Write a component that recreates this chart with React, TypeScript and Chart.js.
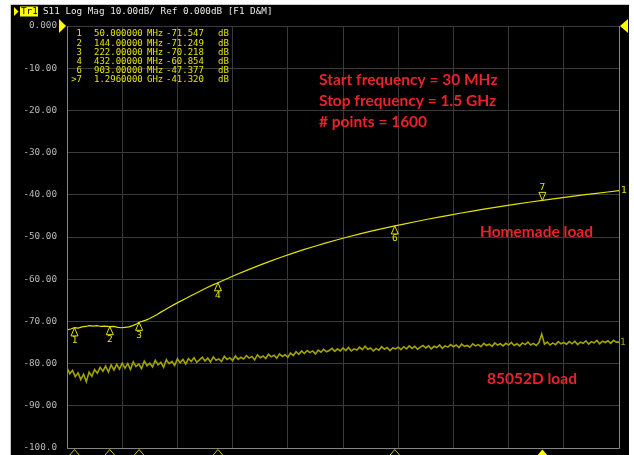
import React, { useEffect, useRef } from "react";
import { Chart, registerables } from "chart.js";
Chart.register(...registerables);

const START_MHZ = 30;
const STOP_MHZ = 1500;
const X_STEP_MHZ = 147;
const Y_TICK_LABELS = ["0.000", "-10.00", "-20.00", "-30.00", "-40.00", "-50.00", "-60.00", "-70.00", "-80.00", "-90.00", "-100.0"];
const HEADER_TRACE = "Tr1";
const HEADER_TEXT = "S11 Log Mag 10.00dB/ Ref 0.000dB [F1 D&M]";

const HOMEMADE_FREQ = [
  30, 40, 50, 60, 70, 80, 90, 100, 110, 120, 130, 144, 155, 165, 175, 185, 195, 205, 215, 222,
  230, 240, 250, 260, 270, 280, 290, 300, 315, 330, 345, 360, 375, 390, 405, 420, 432, 450, 480, 510,
  540, 570, 600, 630, 660, 690, 720, 750, 780, 810, 840, 870, 903, 930, 960, 990, 1020, 1050, 1080, 1110,
  1140, 1170, 1200, 1230, 1260, 1296, 1320, 1350, 1380, 1410, 1440, 1470, 1500,
];
const HOMEMADE_DB = [
  -72.0, -71.8, -71.5, -71.6, -71.3, -71.2, -71.0, -71.1, -71.0, -71.2, -71.1, -71.25, -71.2, -71.4, -71.5, -71.4, -71.3, -71.0, -70.6, -70.2,
  -70.0, -69.7, -69.3, -68.85, -68.35, -67.8, -67.28, -66.75, -66.03, -65.32, -64.62, -63.93, -63.25, -62.58, -61.92, -61.28, -60.85, -60.13, -58.96, -57.85,
  -56.79, -55.77, -54.8, -53.88, -53.0, -52.18, -51.4, -50.65, -49.93, -49.26, -48.61, -48.0, -47.38, -46.87, -46.33, -45.8, -45.3, -44.8, -44.32, -43.86,
  -43.4, -42.97, -42.55, -42.15, -41.76, -41.32, -41.02, -40.67, -40.32, -39.98, -39.65, -39.33, -39.01,
];

// 85052D load, read at evenly spaced stimulus points from 30 MHz to 1.5 GHz
const LOAD_85052D_DB = [
  -81.0, -82.4, -81.6, -83.1, -82.2, -83.8, -82.5, -84.3, -82.0, -83.0, -81.4, -82.3, -80.9, -81.8, -80.6, -82.0, -80.3, -81.5, -80.2, -81.3, -79.9,
  -81.1, -80.0, -81.4, -79.6, -80.7, -80.1, -81.2, -79.4, -80.5, -79.9, -80.8, -79.2, -80.3, -79.7, -80.9, -79.1, -80.0, -79.5, -80.4, -78.9,
  -79.8, -79.0, -80.1, -78.8, -79.5, -78.6, -79.7, -79.1, -78.5, -79.4, -78.7, -79.6, -78.4, -79.2, -78.9, -79.5, -78.3, -79.0, -78.6, -79.3,
  -78.2, -79.0, -78.5, -78.9, -78.1, -78.7, -78.3, -79.1, -77.9, -78.6, -78.2, -78.8, -77.8, -78.4, -78.0, -78.7, -77.7, -78.3, -77.9, -78.5,
  -77.5, -78.1, -77.2, -77.8, -77.0, -77.6, -76.9, -77.4, -77.0, -77.7, -76.8, -77.3, -76.6, -77.2, -76.9, -76.4, -77.1, -76.5, -77.0, -76.3,
  -76.9, -76.2, -77.0, -76.5, -76.8, -76.1, -76.7, -75.9, -76.6, -76.3, -77.0, -76.4, -76.8, -76.0, -76.6, -76.2, -76.9, -76.3, -76.5, -76.1,
  -76.7, -76.0, -76.5, -75.8, -76.4, -75.9, -76.6, -76.1, -75.7, -76.3, -75.8, -76.5, -75.9, -76.2, -75.6, -76.4, -75.8, -76.1, -75.5, -76.0,
  -75.6, -76.2, -75.4, -75.9, -75.7, -76.1, -75.3, -75.8, -75.5, -76.0, -75.2, -75.7, -75.4, -75.9, -75.1, -75.6, -75.3, -75.8, -75.2, -75.6,
  -75.0, -75.7, -75.3, -75.8, -75.1, -75.5, -74.9, -75.6, -75.2, -75.7, -75.0, -73.0, -75.4, -74.9, -75.6, -75.1, -75.5, -74.8, -75.3, -75.0,
  -75.4, -74.8, -75.3, -74.7, -75.5, -74.9, -75.2, -74.6, -75.4, -74.8, -75.1, -74.5, -75.3, -74.7, -75.0, -74.6, -75.2, -74.5, -74.9, -74.9,
];

const MARKER_NAMES = ["1", "2", "3", "4", "6", "7"];
const MARKER_TABLE_NAMES = ["1", "2", "3", "4", "6", ">7"];
const MARKER_FREQ = [50, 144, 222, 432, 903, 1296];
const MARKER_DB = [-71.547, -71.249, -70.218, -60.854, -47.377, -41.32];
const MARKER_FREQ_TEXT = ["50.000000", "144.00000", "222.00000", "432.00000", "903.00000", "1.2960000"];
const MARKER_UNIT = ["MHz", "MHz", "MHz", "MHz", "MHz", "GHz"];
const ACTIVE_MARKER = "7";

const INFO_LINES = ["Start frequency = 30 MHz", "Stop frequency = 1.5 GHz", "# points = 1600"];
const TRACE_NAMES = ["Homemade load", "85052D load"];

const YELLOW = "#e2e200";
const OLIVE = "#a3a300";
const RED = "#e8232c";
const MONO = "'DejaVu Sans Mono', monospace";

const overlay = {
  id: "vnaOverlay",
  beforeDraw(chart: any) {
    const ctx = chart.ctx;
    ctx.save();
    ctx.fillStyle = "#ffffff";
    ctx.fillRect(0, 0, chart.width, chart.height);
    ctx.fillStyle = "#000000";
    ctx.fillRect(11, 5, 618, chart.height - 5);
    ctx.strokeStyle = "#c8c8c8";
    ctx.lineWidth = 1;
    ctx.beginPath();
    ctx.moveTo(10.5, 4.5);
    ctx.lineTo(629, 4.5);
    ctx.moveTo(10.5, 4.5);
    ctx.lineTo(10.5, chart.height);
    ctx.stroke();
    ctx.restore();
  },
  afterDatasetsDraw(chart: any) {
    const ctx = chart.ctx;
    const sx = chart.scales.x;
    const sy = chart.scales.y;
    const a = chart.chartArea;
    ctx.save();
    // plot frame
    ctx.strokeStyle = "#848484";
    ctx.lineWidth = 1;
    ctx.beginPath();
    ctx.moveTo(Math.round(a.left) + 0.5, a.top);
    ctx.lineTo(Math.round(a.left) + 0.5, Math.round(a.bottom) + 0.5);
    ctx.lineTo(Math.round(a.right) + 0.5, Math.round(a.bottom) + 0.5);
    ctx.lineTo(Math.round(a.right) + 0.5, a.top);
    ctx.stroke();

    // trace markers
    ctx.font = `9.5px ${MONO}`;
    ctx.textAlign = "center";
    ctx.textBaseline = "middle";
    ctx.strokeStyle = YELLOW;
    ctx.fillStyle = YELLOW;
    MARKER_NAMES.forEach((name, i) => {
      const x = sx.getPixelForValue(MARKER_FREQ[i]);
      const y = sy.getPixelForValue(MARKER_DB[i]);
      ctx.beginPath();
      if (name === ACTIVE_MARKER) {
        ctx.moveTo(x, y);
        ctx.lineTo(x - 3.5, y - 8);
        ctx.lineTo(x + 3.5, y - 8);
        ctx.closePath();
        ctx.stroke();
        ctx.fillText(name, x, y - 13);
      } else {
        ctx.moveTo(x, y);
        ctx.lineTo(x - 3.5, y + 8);
        ctx.lineTo(x + 3.5, y + 8);
        ctx.closePath();
        ctx.stroke();
        ctx.fillText(name, x, y + 13);
      }
      // stimulus markers at the bottom
      const by = Math.round(a.bottom) + 1.5;
      ctx.beginPath();
      ctx.moveTo(x, by);
      ctx.lineTo(x - 6, by + 7);
      ctx.lineTo(x + 6, by + 7);
      ctx.closePath();
      if (name === ACTIVE_MARKER) {
        ctx.fillStyle = "#ffff00";
        ctx.fill();
        ctx.fillStyle = YELLOW;
      } else {
        ctx.strokeStyle = "#c8c800";
        ctx.stroke();
        ctx.strokeStyle = YELLOW;
      }
    });

    // trace end labels
    ctx.textAlign = "left";
    const ds = chart.data.datasets;
    const endHome = ds[0].data[ds[0].data.length - 1];
    const endLoad = ds[1].data[ds[1].data.length - 1];
    ctx.fillStyle = YELLOW;
    ctx.fillText("1", a.right + 2, sy.getPixelForValue(endHome.y));
    ctx.fillStyle = OLIVE;
    ctx.fillText("1", a.right + 1, sy.getPixelForValue(endLoad.y));

    // reference level arrows
    const ry = sy.getPixelForValue(0);
    ctx.fillStyle = "#ffff00";
    ctx.beginPath();
    ctx.moveTo(a.left - 8, ry - 7);
    ctx.lineTo(a.left - 8, ry + 7);
    ctx.lineTo(a.left - 1, ry);
    ctx.closePath();
    ctx.fill();
    ctx.beginPath();
    ctx.moveTo(a.right + 9, ry - 7);
    ctx.lineTo(a.right + 9, ry + 7);
    ctx.lineTo(a.right + 1, ry);
    ctx.closePath();
    ctx.fill();

    // marker table
    ctx.font = `9px ${MONO}`;
    ctx.fillStyle = YELLOW;
    MARKER_TABLE_NAMES.forEach((name, i) => {
      const y = 34 + i * 9.2;
      ctx.textAlign = "right";
      ctx.fillText(name, 82, y);
      ctx.textAlign = "left";
      ctx.fillText(MARKER_FREQ_TEXT[i], 94, y);
      ctx.fillText(MARKER_UNIT[i], 147, y);
      ctx.fillText(MARKER_DB[i].toFixed(3), 166, y);
      ctx.fillText("dB", 218, y);
    });

    // header
    ctx.fillStyle = "#ffff00";
    ctx.beginPath();
    ctx.moveTo(14, 7);
    ctx.lineTo(14, 16);
    ctx.lineTo(18.5, 11.5);
    ctx.closePath();
    ctx.fill();
    ctx.fillRect(20, 6.5, 18, 10);
    ctx.fillStyle = "#000000";
    ctx.font = `9.3px ${MONO}`;
    ctx.textAlign = "left";
    ctx.fillText(HEADER_TRACE, 21, 12);
    ctx.fillStyle = "#e6e6e6";
    ctx.fillText(HEADER_TEXT, 43, 12);

    // red annotations
    ctx.fillStyle = RED;
    ctx.font = "bold 15.5px Lato, 'Open Sans', sans-serif";
    ctx.textAlign = "left";
    INFO_LINES.forEach((t, i) => {
      ctx.fillText(t, 319, 80 + i * 21);
    });
    ctx.fillText(TRACE_NAMES[0], 480, 232);
    ctx.fillText(TRACE_NAMES[1], 487, 379);
    ctx.restore();
  },
};

export default function App() {
  const ref = useRef<HTMLCanvasElement | null>(null);
  useEffect(() => {
    if (!ref.current) return;
    const step = (STOP_MHZ - START_MHZ) / (LOAD_85052D_DB.length - 1);
    const homemade = HOMEMADE_FREQ.map((f, i) => ({ x: f, y: HOMEMADE_DB[i] }));
    const load = LOAD_85052D_DB.map((v, i) => ({ x: START_MHZ + i * step, y: v }));
    const chart = new Chart(ref.current, {
      type: "line",
      data: {
        datasets: [
          { label: TRACE_NAMES[0], data: homemade, borderColor: YELLOW, borderWidth: 1.2, pointRadius: 0, tension: 0 },
          { label: TRACE_NAMES[1], data: load, borderColor: OLIVE, borderWidth: 1.6, pointRadius: 0, tension: 0 },
        ],
      },
      options: {
        animation: false,
        responsive: true,
        maintainAspectRatio: false,
        layout: { padding: { left: 0, top: 26, right: 15, bottom: 7 } },
        plugins: { legend: { display: false }, tooltip: { enabled: false } },
        scales: {
          x: {
            type: "linear",
            min: START_MHZ,
            max: STOP_MHZ,
            ticks: { display: false, stepSize: X_STEP_MHZ },
            grid: { color: "#3a3a3a", drawTicks: false },
            border: { display: false },
            afterFit: (s: any) => {
              s.height = 0;
              s.paddingLeft = 0;
              s.paddingRight = 0;
            },
          },
          y: {
            min: -100,
            max: 0,
            ticks: {
              stepSize: 10,
              color: "#b8b8bc",
              padding: 10,
              font: { family: "DejaVu Sans Mono", size: 9.3 },
              callback: (v: any) => Y_TICK_LABELS[Math.round(-Number(v) / 10)],
            },
            grid: { color: "#3a3a3a", drawTicks: false },
            border: { display: false },
            afterFit: (s: any) => {
              s.width = 67;
              s.paddingTop = 0;
              s.paddingBottom = 0;
            },
          },
        },
      },
      plugins: [overlay],
    });
    return () => chart.destroy();
  }, []);
  return (
    <div style={{ position: "absolute", left: 0, top: 0, width: 634, height: 455 }}>
      <canvas ref={ref} />
    </div>
  );
}
